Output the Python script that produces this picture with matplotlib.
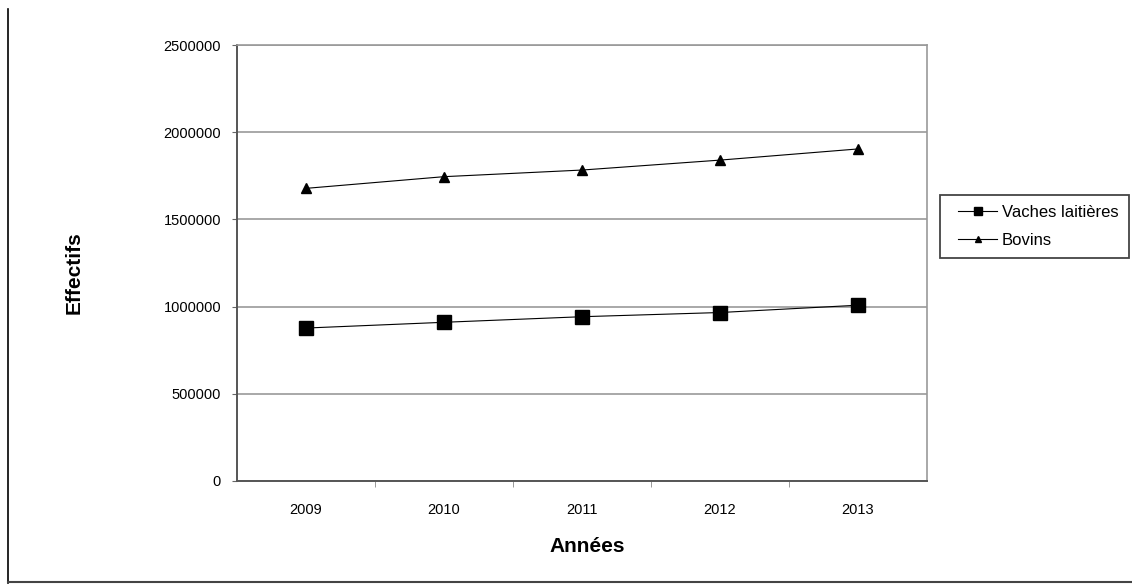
import matplotlib.pyplot as plt
from matplotlib.lines import Line2D
from matplotlib.patches import Rectangle

# Effectifs du cheptel par année
annees = ["2009", "2010", "2011", "2012", "2013"]
vaches_laitieres = [877000, 910000, 942000, 966000, 1008000]
bovins = [1678000, 1745000, 1783000, 1840000, 1904000]

plt.rcParams['font.family'] = ['Liberation Sans', 'DejaVu Sans']

fig = plt.figure(figsize=(11.32, 5.86), dpi=100)
ax = fig.add_axes([0.2094, 0.1792, 0.6095, 0.744])

x = range(len(annees))
ax.plot(x, vaches_laitieres, color='black', lw=0.8, marker='s', ms=9.5,
        label='Vaches laitières')
ax.plot(x, bovins, color='black', lw=0.8, marker='^', ms=7.5,
        label='Bovins')

ax.set_xlim(-0.5, len(annees) - 0.5)
ax.set_ylim(0, 2500000)
ax.set_yticks(range(0, 2500001, 500000))
ax.set_yticklabels([str(v) for v in range(0, 2500001, 500000)])
ax.set_xticks(list(x))
ax.set_xticklabels(annees)
ax.set_xticks([i + 0.5 for i in range(len(annees) - 1)], minor=True)
ax.tick_params(axis='x', which='major', length=0, pad=16, labelsize=10.5)
ax.tick_params(axis='x', which='minor', length=4, direction='out', color='#888888')
ax.tick_params(axis='y', length=3.5, direction='out', color='#666666', labelsize=10.5, pad=8)
ax.yaxis.grid(True, color='#999999', lw=1.2)
ax.set_axisbelow(True)

for side in ['top', 'right']:
    ax.spines[side].set_color('#999999')
    ax.spines[side].set_linewidth(1.2)
for side in ['left', 'bottom']:
    ax.spines[side].set_color('#555555')
    ax.spines[side].set_linewidth(1.4)

ax.set_xlabel('Années', fontsize=15, fontweight='bold')
ax.set_ylabel('Effectifs', fontsize=15, fontweight='bold')
ax.xaxis.set_label_coords(0.507, -0.128)
ax.yaxis.set_label_coords(-0.223, 0.479)

# légende sans cadre, le cadre est tracé à part (sous les axes)
fig.add_artist(Rectangle((0.8304, 0.5597), 0.167, 0.1075, transform=fig.transFigure,
                         facecolor='white', edgecolor='#444444', lw=1.3, zorder=-1))
ax.legend(loc='center left', bbox_to_anchor=(0.8463, 0.6135),
          bbox_transform=fig.transFigure, borderaxespad=0, borderpad=0,
          fontsize=12, frameon=False, handlelength=2.34, handletextpad=0.3,
          markerscale=0.55, labelspacing=0.75)

# cadre de la figure (gauche et bas)
fig.add_artist(Line2D([0.007, 0.007], [0.005, 0.985], color='black', lw=1.2,
                      transform=fig.transFigure))
fig.add_artist(Line2D([0.007, 1.0], [0.006, 0.006], color='#444444', lw=1.5,
                      transform=fig.transFigure))

fig.savefig('out.png', dpi=100)
